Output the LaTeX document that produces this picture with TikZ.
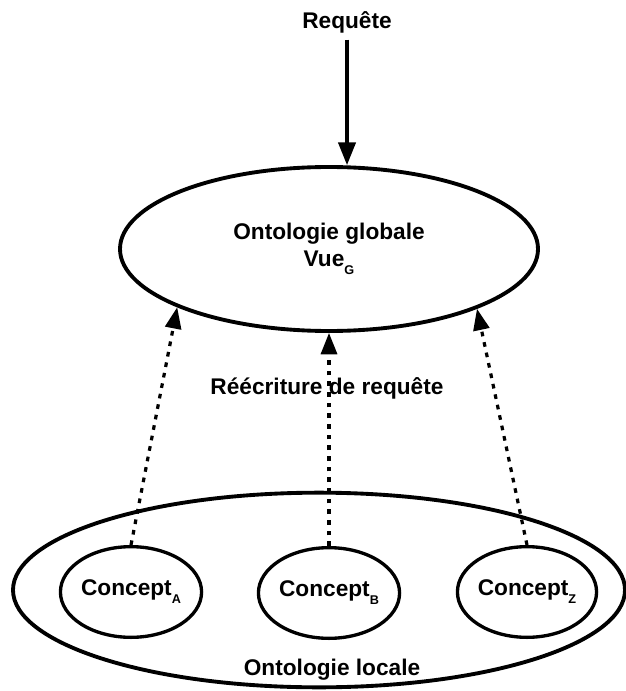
\documentclass[tikz,border=0pt]{standalone}
\usepackage{fontspec}
\setmainfont{Liberation Sans}
\usetikzlibrary{arrows.meta,shapes.geometric}

\newcommand{\lowsub}[1]{\raisebox{-0.35em}{\fontsize{9.5}{10}\selectfont #1}}

\begin{document}
\begin{tikzpicture}[x=0.75pt,y=-0.75pt,
  lbl/.style={font=\bfseries\fontsize{17}{20}\selectfont, inner sep=0pt},
  oval/.style={draw, ellipse, line width=2.9pt, inner sep=0pt,
    font=\bfseries\fontsize{17}{20}\selectfont, align=center},
  conceptbox/.style={oval, line width=2.5pt, minimum width=93pt, minimum height=68pt},
  queryarrow/.style={line width=2.3pt, -{Triangle[length=17pt,width=13pt]}},
  rewritearrow/.style={line width=2.4pt, dash pattern=on 3.5pt off 4.5pt,
    -{Triangle[length=16pt,width=12pt]}}
]
\useasboundingbox (0,0) rectangle (625,691);

% global view
\node[lbl] (req) at (347,22) {Requête};
\node[oval, minimum width=313.5pt, minimum height=123pt] (glob) at (329,249)
  {Ontologie globale\\Vue\lowsub{G}};

% local ontology with its concepts
\node[oval, minimum width=459pt, minimum height=146pt] (loc) at (319,590) {};
\node[lbl] (loclbl) at (332,670) {Ontologie locale};
\node[conceptbox] (ca) at (131,592) {Concept\lowsub{A}};
\node[conceptbox] (cb) at (329,593) {Concept\lowsub{B}};
\node[conceptbox] (cz) at (527,592) {Concept\lowsub{Z}};

\node[lbl] (rew) at (327,388) {Réécriture de requête};

% connectors
\draw[queryarrow, shorten <=5pt] (req.south) -- (req.south |- glob.north);
\draw[rewritearrow] (ca.north) -- (glob.201.7);
\draw[rewritearrow] (cb.north) -- (cb.north |- glob.south);
\draw[rewritearrow] (cz.north) -- (glob.-22.4);
\end{tikzpicture}
\end{document}
